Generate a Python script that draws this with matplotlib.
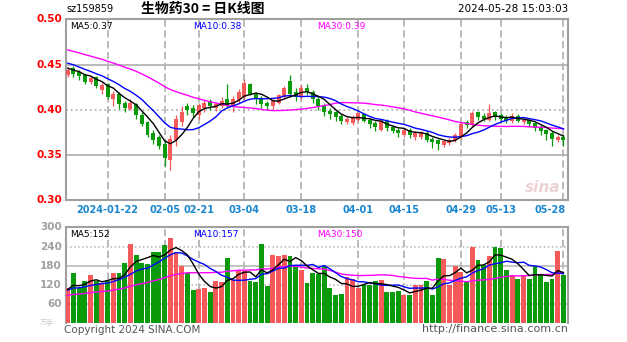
import matplotlib
matplotlib.use("Agg")
import matplotlib.pyplot as plt
import numpy as np
import pandas as pd

plt.rcParams["font.family"] = ["DejaVu Sans", "Noto Sans CJK SC"]

# ---- data ----------------------------------------------------------------
opens = [0.438, 0.446, 0.442, 0.438, 0.431, 0.436, 0.422, 0.428, 0.412, 0.418,
         0.407, 0.401, 0.406, 0.394, 0.386, 0.374, 0.370, 0.362, 0.344, 0.366,
         0.386, 0.404, 0.402, 0.394, 0.402, 0.410, 0.402, 0.404, 0.412, 0.403,
         0.411, 0.414, 0.428, 0.418, 0.413, 0.408, 0.404, 0.408, 0.414, 0.432,
         0.420, 0.414, 0.424, 0.420, 0.412, 0.405, 0.399, 0.397, 0.393, 0.386,
         0.385, 0.389, 0.395, 0.389, 0.385, 0.378, 0.388, 0.381, 0.378, 0.372,
         0.378, 0.370, 0.370, 0.374, 0.368, 0.366, 0.361, 0.363, 0.366, 0.370,
         0.386, 0.383, 0.397, 0.393, 0.389, 0.397, 0.394, 0.391, 0.387, 0.393,
         0.386, 0.389, 0.385, 0.381, 0.378, 0.374, 0.366, 0.370]
closes = [0.444, 0.440, 0.437, 0.431, 0.435, 0.426, 0.427, 0.414, 0.418, 0.406,
          0.402, 0.408, 0.394, 0.384, 0.372, 0.366, 0.360, 0.346, 0.368, 0.390,
          0.398, 0.400, 0.396, 0.405, 0.408, 0.404, 0.406, 0.410, 0.404, 0.412,
          0.420, 0.430, 0.418, 0.412, 0.406, 0.404, 0.410, 0.416, 0.424, 0.418,
          0.414, 0.424, 0.420, 0.412, 0.404, 0.398, 0.395, 0.392, 0.387, 0.390,
          0.392, 0.396, 0.388, 0.384, 0.381, 0.388, 0.380, 0.377, 0.374, 0.378,
          0.372, 0.374, 0.375, 0.367, 0.364, 0.362, 0.365, 0.367, 0.372, 0.384,
          0.383, 0.396, 0.392, 0.390, 0.396, 0.392, 0.390, 0.388, 0.393, 0.388,
          0.389, 0.384, 0.380, 0.377, 0.373, 0.368, 0.370, 0.366]
highs = [0.447, 0.448, 0.444, 0.440, 0.437, 0.437, 0.430, 0.430, 0.421, 0.420,
         0.410, 0.412, 0.408, 0.397, 0.388, 0.378, 0.372, 0.366, 0.372, 0.394,
         0.404, 0.408, 0.405, 0.408, 0.411, 0.412, 0.409, 0.414, 0.428, 0.415,
         0.423, 0.434, 0.430, 0.420, 0.415, 0.410, 0.412, 0.418, 0.426, 0.438,
         0.424, 0.427, 0.428, 0.422, 0.414, 0.407, 0.402, 0.399, 0.395, 0.392,
         0.394, 0.398, 0.396, 0.391, 0.387, 0.390, 0.390, 0.383, 0.380, 0.380,
         0.380, 0.376, 0.377, 0.376, 0.370, 0.368, 0.367, 0.369, 0.374, 0.386,
         0.389, 0.399, 0.399, 0.396, 0.406, 0.399, 0.396, 0.394, 0.396, 0.395,
         0.391, 0.391, 0.386, 0.383, 0.379, 0.376, 0.372, 0.372]
lows = [0.436, 0.436, 0.433, 0.428, 0.428, 0.424, 0.418, 0.412, 0.404, 0.401,
        0.398, 0.400, 0.390, 0.382, 0.370, 0.362, 0.356, 0.338, 0.333, 0.360,
        0.382, 0.394, 0.392, 0.390, 0.398, 0.400, 0.399, 0.402, 0.402, 0.398,
        0.408, 0.412, 0.416, 0.406, 0.402, 0.400, 0.401, 0.406, 0.412, 0.414,
        0.410, 0.412, 0.416, 0.408, 0.400, 0.393, 0.390, 0.388, 0.384, 0.384,
        0.383, 0.387, 0.386, 0.380, 0.377, 0.376, 0.377, 0.374, 0.370, 0.370,
        0.369, 0.367, 0.368, 0.364, 0.358, 0.355, 0.359, 0.361, 0.364, 0.368,
        0.380, 0.381, 0.389, 0.387, 0.387, 0.389, 0.387, 0.385, 0.385, 0.386,
        0.384, 0.381, 0.376, 0.372, 0.366, 0.360, 0.364, 0.360]
volumes = [111, 158, 111, 131, 151, 131, 126, 131, 159, 156,
           189, 248, 214, 190, 185, 224, 224, 245, 267, 224,
           178, 156, 104, 108, 110, 99, 131, 128, 204, 136,
           167, 165, 131, 128, 248, 116, 214, 210, 214, 212,
           178, 167, 126, 156, 154, 178, 111, 90, 92, 146,
           140, 111, 121, 120, 131, 136, 99, 98, 100, 90,
           90, 121, 119, 131, 90, 204, 200, 121, 178, 160,
           131, 240, 199, 183, 209, 240, 235, 167, 150, 140,
           150, 140, 180, 150, 130, 140, 225, 150]
# closes / volumes before the first visible day (only feed the moving averages)
prior_closes = [0.492, 0.488, 0.484, 0.486, 0.480, 0.478, 0.482, 0.476, 0.472, 0.474,
                0.470, 0.468, 0.472, 0.466, 0.470, 0.464, 0.466, 0.462, 0.464, 0.460,
                0.458, 0.462, 0.456, 0.458, 0.452, 0.450, 0.446, 0.448, 0.442]
prior_volumes = [70, 75, 68, 80, 72, 78, 85, 74, 70, 82, 76, 88, 80, 72, 90,
                 84, 78, 86, 95, 88, 92, 105, 98, 110, 102, 96, 118, 108, 100]

tick_idx = [7, 17, 23, 31, 41, 51, 59, 69, 76, 87]
tick_labels = ["2024-01-22", "02-05", "02-21", "03-04", "03-18",
               "04-01", "04-15", "04-29", "05-13", "05-28"]
price_ticks = [0.30, 0.35, 0.40, 0.45, 0.50]
vol_ticks = [60, 120, 180, 240, 300]

RED = "#f55a5a"
GREEN = "#0a9a0a"
GRID = "#b4b4b4"
n = len(closes)
x = np.arange(n)


def moving_averages(prior, values, windows=(5, 10, 30)):
    s = pd.Series(list(prior) + list(values), dtype=float)
    return {w: s.rolling(w).mean().to_numpy()[len(prior):] for w in windows}


fig = plt.figure(figsize=(6.27, 3.42), dpi=100)
ax = fig.add_axes([0.1053, 0.4152, 0.8006, 0.5278])
axv = fig.add_axes([0.1053, 0.0541, 0.8006, 0.2813])

up = np.array(closes) >= np.array(opens)
colors = [RED if u else GREEN for u in up]

# candles
ax.vlines(x, lows, highs, colors=colors, linewidth=0.9, zorder=3)
body_bottom = np.minimum(opens, closes)
body_height = np.maximum(np.abs(np.array(closes) - np.array(opens)), 0.0008)
ax.bar(x, body_height, bottom=body_bottom, width=0.7, color=colors,
       linewidth=0, zorder=4)

ma = moving_averages(prior_closes, closes)
for w, c in ((30, "#ff00ff"), (10, "#0000ff"), (5, "black")):
    ax.plot(x, ma[w], color=c, linewidth=1.0, zorder=5)

# volume bars
axv.bar(x, volumes, width=0.85, color=colors, linewidth=0, zorder=3)
vma = moving_averages(prior_volumes, volumes)
for w, c in ((30, "#ff00ff"), (10, "#0000ff"), (5, "black")):
    axv.plot(x, vma[w], color=c, linewidth=1.0, zorder=5)

for a in (ax, axv):
    a.set_xlim(-0.3, 87.8)
    for t in tick_idx:
        a.axvline(t, color=GRID, linewidth=1.3, linestyle=(0, (4, 2)), zorder=1)
    a.set_xticks([])
    a.tick_params(left=False, labelleft=False)
    for side in ("left", "right", "top", "bottom"):
        a.spines[side].set_color("#a0a0a0")
        a.spines[side].set_linewidth(1.5)

ax.set_ylim(0.30, 0.50)
ax.set_yticks([])
for i, p in enumerate(price_ticks):
    if 0 < i < len(price_ticks) - 1:
        ls = "-" if i % 2 else ":"
        ax.axhline(p, color=GRID, linewidth=1.3, linestyle=ls, zorder=1)
    ax.text(-0.008, p, f"{p:.2f}", transform=ax.get_yaxis_transform(),
            ha="right", va="center", color="red", fontsize=7.5, fontweight="bold")

axv.set_ylim(0, 300)
axv.set_yticks([])
axv.spines["bottom"].set_visible(False)
for i, v in enumerate(vol_ticks):
    if v < 300:
        ls = ":" if i % 2 else "-"
        axv.axhline(v, color=GRID, linewidth=1.1, linestyle=ls, zorder=1)
    axv.text(-0.008, v, f"{v}", transform=axv.get_yaxis_transform(),
             ha="right", va="center", color="#a0a0a0", fontsize=7.5, fontweight="bold")
axv.text(-0.025, 0, "万手", transform=axv.get_yaxis_transform(), ha="right",
         va="center", color="#c8c8c8", fontsize=5, family=["Noto Sans CJK SC"])

# date labels
for t, lab in zip(tick_idx, tick_labels):
    ha = "right" if t == tick_idx[-1] else "center"
    xt = t + 0.3 if ha == "right" else t
    ax.text(xt, -0.055, lab, transform=ax.get_xaxis_transform(), ha=ha,
            va="center", color="#1a86d0", fontsize=7, fontweight="bold")

# legends
def legend_row(a, texts, y):
    for xf, (txt, c) in zip((0.008, 0.253, 0.5), texts):
        a.text(xf, y, txt, transform=a.transAxes, ha="left", va="center",
               color=c, fontsize=6.5)


legend_row(ax, [("MA5:0.37", "black"), ("MA10:0.38", "#0000ff"),
                ("MA30:0.39", "#ff00ff")], 0.962)
legend_row(axv, [("MA5:152", "black"), ("MA10:157", "#0000ff"),
                 ("MA30:150", "#ff00ff")], 0.925)

# header and footer
fig.text(66 / 627, 1 - 9 / 342, "sz159859", ha="left", va="center",
         fontsize=7, color="black")
fig.text(203 / 627, 1 - 9 / 342, "生物药30 = 日K线图", ha="center", va="center",
         fontsize=10, color="black", fontweight="bold",
         family=["Noto Sans CJK SC", "DejaVu Sans"])
fig.text(568 / 627, 1 - 9 / 342, "2024-05-28 15:03:03", ha="right",
         va="center", fontsize=7.5, color="black")
fig.text(64 / 627, 1 - 330 / 342, "Copyright 2024 SINA.COM", ha="left",
         va="center", fontsize=7.5, color="#555555")
fig.text(568 / 627, 1 - 329 / 342, "http://finance.sina.com.cn", ha="right",
         va="center", fontsize=8, color="#555555")
ax.text(0.985, 0.07, "sina", transform=ax.transAxes, ha="right", va="center",
        fontsize=11, fontweight="bold", fontstyle="italic", color="#e8c8c8",
        alpha=0.8)

fig.savefig("out.png", dpi=100)
